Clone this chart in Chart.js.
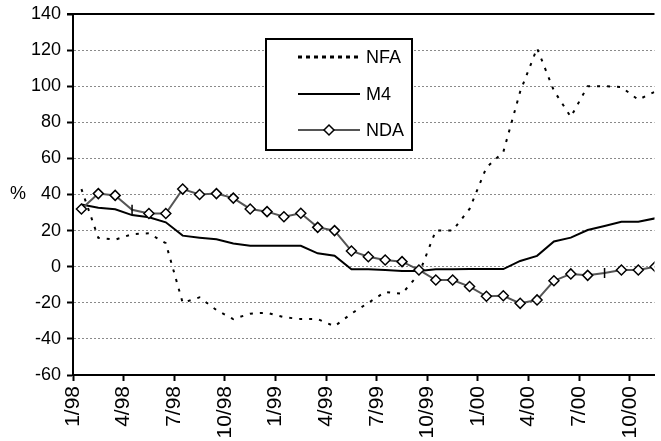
<!DOCTYPE html>
<html>
<head>
<meta charset="utf-8">
<script src="https://cdn.jsdelivr.net/npm/chart.js@4.4.0/dist/chart.umd.min.js"></script>
<style>
  body { margin: 0; background: #fff; }
  canvas { display: block; }
</style>
</head>
<body>
<canvas id="chart" width="661" height="441"></canvas>
<script>
// monthly categories, 1/98 .. 11/00
const months = [
  '1/98', '2/98', '3/98', '4/98', '5/98', '6/98', '7/98', '8/98', '9/98', '10/98', '11/98', '12/98',
  '1/99', '2/99', '3/99', '4/99', '5/99', '6/99', '7/99', '8/99', '9/99', '10/99', '11/99', '12/99',
  '1/00', '2/00', '3/00', '4/00', '5/00', '6/00', '7/00', '8/00', '9/00', '10/00', '11/00'
];

const nfa = [
  43, 16, 15, 18, 18.5, 13, -20, -17, -24, -29, -26, -25.5,
  -28, -29, -29, -33, -26, -20, -14, -15, -4, 20, 20, 32,
  55, 63.5, 97, 121, 97.5, 83, 100, 100, 99.5, 92.5, 97
];

const m4 = [
  34.5, 32.7, 31.8, 28.6, 27.4, 24.6, 17.2, 16.1, 15.2, 12.9, 11.6, 11.6,
  11.6, 11.6, 7.4, 6.1, -1.4, -1.4, -1.8, -2.4, -2.4, -1.4, -1.4, -1.3,
  -1.3, -1.3, 3.2, 6, 14, 16.1, 20.3, 22.6, 24.9, 24.9, 26.8
];

const nda = [
  32, 40.5, 39.5, 31.5, 29.5, 29.5, 43, 40, 40.5, 38, 32, 30.5,
  27.7, 29.6, 21.8, 20, 8.7, 5.5, 3.7, 2.8, -1.8, -7.4, -7.4, -11,
  -16.4, -16.1, -20.3, -18.4, -7.8, -4, -4.8, -3.5, -1.8, -1.8, 0
];

const yMin = -60, yMax = 140, yStep = 20;
const tickEvery = 3;

const FONT = "'Liberation Sans', Arial, sans-serif";
const FONT_SIZE = 18;

// points sit in the middle of each month
const toPoints = (arr) => arr.map((v, i) => ({ x: i + 0.5, y: v }));

const extras = {
  id: 'extras',
  afterDatasetsDraw(chart) {
    const { ctx, chartArea, scales } = chart;
    ctx.save();
    // top frame line
    ctx.strokeStyle = '#000';
    ctx.lineWidth = 2;
    ctx.beginPath();
    ctx.moveTo(chartArea.left - 6, chartArea.top);
    ctx.lineTo(chartArea.right, chartArea.top);
    ctx.stroke();

    // "%" axis title
    ctx.fillStyle = '#000';
    ctx.font = FONT_SIZE + 'px ' + FONT;
    ctx.textBaseline = 'middle';
    ctx.textAlign = 'left';
    ctx.fillText('%', 10, scales.y.getPixelForValue(40));

    // legend box
    const bx = 266, by = 39, bw = 146, bh = 111;
    ctx.fillStyle = '#fff';
    ctx.fillRect(bx, by, bw, bh);
    ctx.lineWidth = 2;
    ctx.strokeStyle = '#000';
    ctx.strokeRect(bx, by, bw, bh);

    const rows = [
      { label: 'NFA', y: 57 },
      { label: 'M4', y: 94 },
      { label: 'NDA', y: 130 }
    ];
    const x0 = 298, x1 = 360;
    // NFA sample
    ctx.setLineDash([4, 4]);
    ctx.lineWidth = 3;
    ctx.beginPath();
    ctx.moveTo(x0, rows[0].y);
    ctx.lineTo(x1 - 2, rows[0].y);
    ctx.stroke();
    ctx.setLineDash([]);
    // M4 sample
    ctx.lineWidth = 2;
    ctx.beginPath();
    ctx.moveTo(x0, rows[1].y);
    ctx.lineTo(x1, rows[1].y);
    ctx.stroke();
    // NDA sample
    ctx.strokeStyle = '#555';
    ctx.beginPath();
    ctx.moveTo(x0, rows[2].y);
    ctx.lineTo(x1, rows[2].y);
    ctx.stroke();
    const cx = (x0 + x1) / 2, cy = rows[2].y, r = 5;
    ctx.beginPath();
    ctx.moveTo(cx - r, cy);
    ctx.lineTo(cx, cy - r);
    ctx.lineTo(cx + r, cy);
    ctx.lineTo(cx, cy + r);
    ctx.closePath();
    ctx.fillStyle = '#fff';
    ctx.fill();
    ctx.strokeStyle = '#000';
    ctx.lineWidth = 1.5;
    ctx.stroke();

    ctx.fillStyle = '#000';
    ctx.font = FONT_SIZE + 'px ' + FONT;
    ctx.textAlign = 'left';
    rows.forEach(row => ctx.fillText(row.label, 366, row.y + 1));
    ctx.restore();
  }
};

new Chart(document.getElementById('chart'), {
  type: 'line',
  data: {
    datasets: [
      {
        label: 'NDA',
        data: toPoints(nda),
        borderColor: '#555',
        borderWidth: 2,
        pointStyle: (c) => (c.dataIndex === 3 || c.dataIndex === 31) ? 'line' : 'rectRot',
        rotation: (c) => (c.dataIndex === 3 || c.dataIndex === 31) ? 90 : 0,
        pointRadius: 5,
        pointBackgroundColor: '#fff',
        pointBorderColor: '#000',
        pointBorderWidth: 1.5,
        tension: 0,
        order: 1
      },
      {
        label: 'M4',
        data: toPoints(m4),
        borderColor: '#000',
        borderWidth: 2,
        pointRadius: 0,
        tension: 0,
        order: 2
      },
      {
        label: 'NFA',
        data: toPoints(nfa),
        borderColor: '#000',
        borderWidth: 2,
        borderDash: [3, 7],
        pointRadius: 0,
        tension: 0,
        order: 3
      }
    ]
  },
  options: {
    responsive: false,
    animation: false,
    layout: { padding: { top: 14, right: 0, left: 0, bottom: 0 } },
    plugins: {
      legend: { display: false },
      tooltip: { enabled: false }
    },
    scales: {
      x: {
        type: 'linear',
        min: 0,
        max: 34.46,
        afterFit: (s) => { s.height = 66; },
        afterBuildTicks: (s) => {
          s.ticks = months.map((m, i) => i)
            .filter(i => i % tickEvery === 0)
            .map(v => ({ value: v }));
        },
        grid: {
          drawOnChartArea: false,
          drawTicks: true,
          tickLength: 6,
          tickColor: '#000',
          tickWidth: 2
        },
        border: { color: '#000', width: 2 },
        ticks: {
          autoSkip: false,
          minRotation: 90,
          maxRotation: 90,
          padding: 5,
          color: '#000',
          font: { family: FONT, size: 21 },
          callback: (v) => months[v]
        }
      },
      y: {
        min: yMin,
        max: yMax,
        afterFit: (s) => {
          s.width = 73;
          s.paddingTop = 0;
          s.paddingBottom = 0;
        },
        grid: {
          color: (c) => (c.tick.value === yMin || c.tick.value === yMax) ? 'rgba(0,0,0,0)' : '#8a8a8a',
          lineWidth: 1,
          tickLength: 6,
          tickColor: '#000',
          tickWidth: 2
        },
        border: { color: '#000', width: 2, dash: [2, 2] },
        ticks: {
          stepSize: yStep,
          padding: 6,
          color: '#000',
          font: { family: FONT, size: FONT_SIZE }
        }
      }
    }
  },
  plugins: [extras]
});
</script>
</body>
</html>
